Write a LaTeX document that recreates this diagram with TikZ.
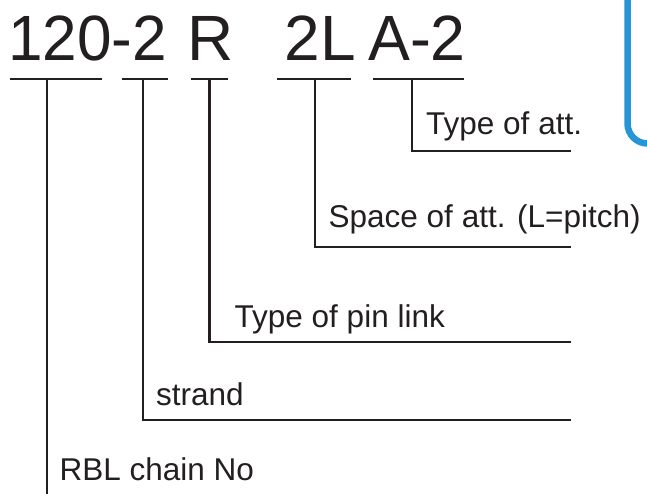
\documentclass[tikz,border=0pt]{standalone}
\usepackage{fontspec}
\setmainfont{Liberation Sans}
\definecolor{ink}{RGB}{35,31,32}
\definecolor{frameblue}{RGB}{40,150,214}
\begin{document}
\begin{tikzpicture}[x=1pt,y=-1pt,
  big/.style={anchor=base west,inner sep=0pt,font=\fontsize{64}{64}\selectfont,text=ink},
  lbl/.style={anchor=base west,inner sep=0pt,font=\fontsize{31.5}{31.5}\selectfont,text=ink},
  uline/.style={draw=ink,line width=2.6pt},
  lead/.style={draw=ink,line width=2.2pt},
  frame/.style={draw=frameblue,line width=6.5pt,rounded corners=20pt}]
\useasboundingbox (0,0) rectangle (647,494);
\clip (0,0) rectangle (647,494);
% code text
\node[big] (c120) at (8,61) {\scalebox{0.97}[1]{120-2}};
\node[big] (cR) at (187.5,61) {R};
\node[big] (c2L) at (284.5,61) {2L};
\node[big] (cA) at (368,61) {\scalebox{0.98}[1]{A-2}};
% underlines
\coordinate (u1a) at (10,79);  \coordinate (u1b) at (102,79);
\coordinate (u2a) at (122,79); \coordinate (u2b) at (168,79);
\coordinate (u3a) at (191,79); \coordinate (u3b) at (228,79);
\coordinate (u4a) at (277,79); \coordinate (u4b) at (351,79);
\coordinate (u5a) at (373,79); \coordinate (u5b) at (464,79);
\draw[uline] (u1a) -- (u1b);
\draw[uline] (u2a) -- (u2b);
\draw[uline] (u3a) -- (u3b);
\draw[uline] (u4a) -- (u4b);
\draw[uline] (u5a) -- (u5b);
% leader starts
\coordinate (s1) at (46.7,79);
\coordinate (s2) at (143,79);
\coordinate (s3) at (209.5,79);
\coordinate (s4) at (315,79);
\coordinate (s5) at (412,79);
% leader ends
\coordinate (e1) at (46.7,500);
\coordinate (e2) at (571,420);
\coordinate (e3) at (571,342);
\coordinate (e4) at (571,247);
\coordinate (e5) at (571,151);
\draw[lead] (s1) -- (e1);
\draw[lead] (s2) |- (e2);
\draw[lead] (s3) |- (e3);
\draw[lead] (s4) |- (e4);
\draw[lead] (s5) |- (e5);
% labels
\node[lbl] (l5) at (426,135) {Type of att.};
\node[lbl] (l4) at (328.5,227) {Space of att. (L=pitch)};
\node[lbl] (l3) at (234.5,327) {Type of pin link};
\node[lbl] (l2) at (156,405) {strand};
\node[lbl] (l1) at (59.5,480) {RBL chain No};
% blue frame corner
\coordinate (f1) at (627.5,-20);
\coordinate (f2) at (627.5,143.5);
\coordinate (f3) at (700,143.5);
\draw[frame] (f1) -- (f2) -- (f3);
\end{tikzpicture}
\end{document}
